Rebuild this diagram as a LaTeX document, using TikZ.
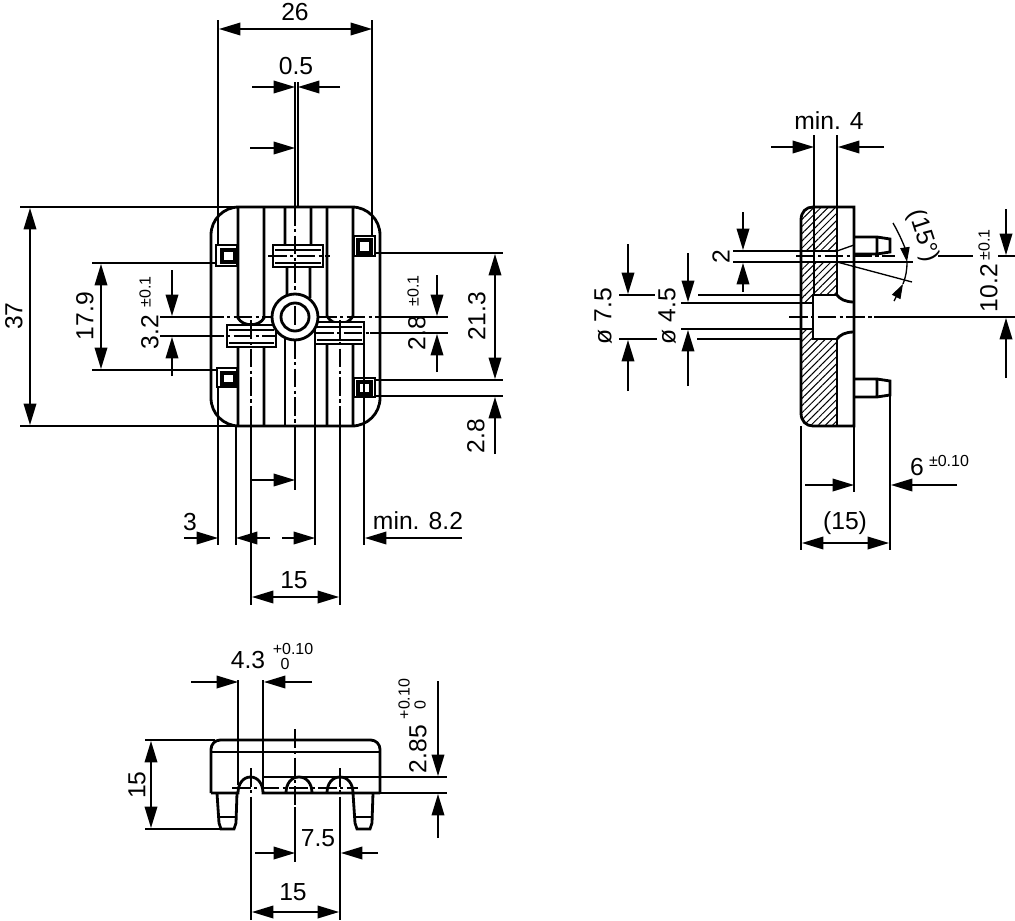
\documentclass[tikz,border=0pt]{standalone}
\usepackage{fontspec}
\setmainfont{Liberation Sans}
\usetikzlibrary{arrows.meta,patterns.meta}
\tikzset{
  outl/.style={line width=2.1pt,line join=miter},
  thinl/.style={line width=1pt},
  ctr/.style={line width=1pt,dash pattern=on 14pt off 2.5pt on 2.5pt off 2.5pt},
  dim/.style={line width=1pt,-{Triangle[length=16pt,width=9.5pt]}},
  dimsmall/.style={line width=1pt,-{Triangle[length=11pt,width=7pt]}},
  dimboth/.style={line width=1pt,{Triangle[length=16pt,width=9.5pt]}-{Triangle[length=16pt,width=9.5pt]}},
  lbl/.style={inner sep=0pt,font=\fontsize{18.5}{20}\selectfont},
  tol/.style={inner sep=0pt,font=\fontsize{12}{14}\selectfont},
  hatch/.style={pattern={Lines[angle=45,distance=3.8pt,line width=0.75pt]}}
}
\begin{document}
\begin{tikzpicture}[x=0.75pt,y=-0.75pt]
  \useasboundingbox (0,0) rectangle (1015,921);
  % front view
  \draw[outl,rounded corners=21pt] (211,207) rectangle (380,426);
  \draw[outl] (238,207) -- (238,318) .. controls (243,327) and (259,327) .. (264,318) -- (264,207);
  \draw[outl] (238,426) -- (238,344) .. controls (243,338) and (259,338) .. (264,344) -- (264,426);
  \draw[outl] (285,207) -- (285,245) .. controls (290,250) and (306,250) .. (311,245) -- (311,207);
  \draw[outl] (287,298) -- (287,265) .. controls (292,262) and (305,262) .. (310,265) -- (310,298);
  \draw[outl] (327,207) -- (327,316) .. controls (332,326) and (348,326) .. (353,316) -- (353,207);
  \draw[outl] (327,426) -- (327,343) .. controls (332,338) and (348,338) .. (353,343) -- (353,426);
  \draw[outl] (285,330) -- (285,426) (315,344) -- (315,426);
  \draw[outl,fill=white] (273,245) rectangle (323,267);
  \draw[outl,fill=white] (227,325) rectangle (276,347);
  \draw[outl,fill=white] (315,322) rectangle (364,344);
  \draw[line width=1.3pt] (275,250) -- (321,250) (275,263) -- (321,263);
  \draw[line width=1.3pt] (229,330) -- (274,330) (229,343) -- (274,343);
  \draw[line width=1.3pt] (317,327) -- (362,327) (317,340) -- (362,340);
  % mounting squares
  \draw[thinl] (216,245) rectangle (237,266) (217,368) rectangle (237,387);
  \draw[thinl] (354,236) rectangle (375,256) (354,378) rectangle (375,397);
  \draw[line width=2.8pt] (222,250) rectangle (235,262) (222,373) rectangle (235,384);
  \draw[line width=2.8pt] (358,240) rectangle (371,253) (358,382) rectangle (371,394);
  \draw[outl] (364,382) -- (364,394);
  % centre lines
  \draw[ctr] (205,317) -- (272,317) (318,317) -- (385,317);
  \draw[ctr] (205,336) -- (276,336) (315,333) -- (370,333);
  \draw[ctr] (268,256) -- (330,256);
  \draw[ctr] (295,207) -- (295,294) (295,340) -- (295,426);
  \draw[ctr] (251,320) -- (251,426) (340,320) -- (340,426);
  \draw[outl,fill=white] (295,317) circle (23);
  \draw[outl] (295,317) circle (14);
  \draw[ctr] (295,306) -- (295,328);
  % extension lines, front view
  \draw[thinl] (218,20) -- (218,245) (218,387) -- (218,545);
  \draw[thinl] (372,20) -- (372,236);
  \draw[thinl] (295,82) -- (295,207) (298,82) -- (298,207);
  \draw[thinl] (295,426) -- (295,490);
  \draw[thinl] (20,207) -- (238,207) (20,426) -- (238,426);
  \draw[thinl] (92,263) -- (216,263) (92,370) -- (217,370);
  \draw[thinl] (160,317) -- (205,317) (160,336) -- (205,336);
  \draw[thinl] (370,333) -- (448,333) (385,317) -- (448,317);
  \draw[thinl] (375,253) -- (503,253) (375,380) -- (503,380) (375,396) -- (503,396);
  \draw[thinl] (236,426) -- (236,545) (315,426) -- (315,545) (364,344) -- (364,545);
  \draw[thinl] (251,426) -- (251,605) (340,426) -- (340,605);
  % dimensions, front view
  \draw[dimboth] (219,29) -- (372,29);
  \node[lbl] (lenA) at (295,12) {26};
  \draw[dim] (252,87) -- (295,87);
  \draw[dim] (340,87) -- (298,87);
  \node[lbl] (gapA) at (296,66) {0.5};
  \draw[dim] (250,148) -- (295,148);
  \draw[dim] (250,480) -- (295,480);
  \draw[dimboth] (30,208) -- (30,425);
  \node[lbl,rotate=90] (heightA) at (14,316) {37};
  \draw[dimboth] (101,264) -- (101,369);
  \node[lbl,rotate=90] (pitchA) at (85,316) {17.9};
  \draw[dim] (172,270) -- (172,316);
  \draw[dim] (172,376) -- (172,337);
  \node[lbl,rotate=90] (slotA) at (150,332) {3.2};
  \node[tol,rotate=90] (slotAt) at (145,292) {±0.1};
  \draw[dim] (437,275) -- (437,316);
  \draw[dim] (437,372) -- (437,334);
  \node[lbl,rotate=90] (slotB) at (417,333) {2.8};
  \node[tol,rotate=90] (slotBt) at (413,291) {±0.1};
  \draw[dimboth] (495,254) -- (495,379);
  \node[lbl,rotate=90] (pitchB) at (477,316) {21.3};
  \draw[dim] (495,454) -- (495,397);
  \node[lbl,rotate=90] (edgeB) at (476,436) {2.8};
  \draw[dim] (184,538) -- (218,538);
  \node[lbl] (edgeA) at (190,522) {3};
  \draw[dim] (270,538) -- (236,538);
  \draw[dim] (282,538) -- (315,538);
  \draw[dim] (462,538) -- (365,538);
  \node[lbl] (minA) at (418,521) {min. 8.2};
  \draw[dimboth] (252,597) -- (339,597);
  \node[lbl] (holesA) at (294,580) {15};
  % side view
  \fill[hatch] (813,207) -- (837,207) -- (837,251) -- (801,251) -- (801,220) .. controls (801,212) and (806,207) .. (813,207) -- cycle;
  \fill[hatch] (801,262) rectangle (837,295);
  \fill[hatch] (801,295) rectangle (813,303);
  \fill[hatch] (801,329) rectangle (813,339);
  \fill[hatch] (801,339) -- (837,339) -- (837,426) -- (813,426) .. controls (806,426) and (801,421) .. (801,413) -- cycle;
  \draw[outl] (813,207) -- (854,207) -- (854,426) -- (813,426) .. controls (806,426) and (801,421) .. (801,413)
    -- (801,220) .. controls (801,212) and (806,207) .. (813,207) -- cycle;
  \draw[outl] (837,207) -- (837,295) -- (813,295) -- (813,339) -- (837,339) -- (837,426);
  \draw[outl] (801,303) -- (813,303) (801,329) -- (813,329);
  \draw[outl] (801,251) -- (837,251) (801,262) -- (837,262);
  \draw[outl] (837,295) .. controls (840,299) and (845,302) .. (854,302);
  \draw[outl] (837,339) .. controls (840,335) and (845,332) .. (854,332);
  \draw[outl] (854,237) -- (877,237) -- (890,239) -- (890,252) -- (877,254) -- (854,254) (877,237) -- (877,254);
  \draw[outl] (854,379) -- (877,379) -- (890,381) -- (890,395) -- (877,397) -- (854,397) (877,379) -- (877,397);
  \draw[thinl] (837,251) -- (854,245) (837,262) -- (912,282);
  \draw[ctr] (789,317) -- (874,317) (796,256) -- (895,256);
  % extension lines, side view
  \draw[thinl] (814,135) -- (814,295) (837,135) -- (837,207);
  \draw[thinl] (733,251) -- (801,251) (733,262) -- (801,262) (837,262) -- (913,262);
  \draw[thinl] (619,295) -- (655,295) (698,295) -- (801,295);
  \draw[thinl] (619,339) -- (657,339) (697,339) -- (801,339);
  \draw[thinl] (681,303) -- (801,303) (681,329) -- (801,329);
  \draw[thinl] (874,317) -- (1015,317);
  \draw[thinl] (938,256) -- (973,256) (998,256) -- (1015,256);
  \draw[thinl] (801,426) -- (801,550) (854,426) -- (854,492) (890,395) -- (890,550);
  % dimensions, side view
  \draw[dim] (771,147) -- (814,147);
  \draw[dim] (884,147) -- (838,147);
  \node[lbl] (minB) at (829,121) {min. 4};
  \draw[dim] (743,212) -- (743,250);
  \draw[dim] (743,292) -- (743,263);
  \node[lbl,rotate=90] (boreA) at (721,257) {2};
  \draw[dim] (628,244) -- (628,294);
  \draw[dim] (628,391) -- (628,340);
  \node[lbl,rotate=90] (boreB) at (603,316) {ø 7.5};
  \draw[dim] (688,253) -- (688,302);
  \draw[dim] (688,386) -- (688,330);
  \node[lbl,rotate=90] (boreC) at (667,316) {ø 4.5};
  \draw[dimsmall] (893,223) .. controls (900,235) and (905,248) .. (907,262);
  \draw[thinl] (907,262) .. controls (907,270) and (906,276) .. (903,284);
  \draw[dimsmall] (894,301) -- (903,284);
  \node[lbl,rotate=-72] (angleA) at (923,236) {(15°)};
  \draw[dim] (1006,209) -- (1006,255);
  \draw[dim] (1006,378) -- (1006,318);
  \node[lbl,rotate=90] (pinA) at (989,288) {10.2};
  \node[tol,rotate=90] (pinAt) at (984,245) {±0.1};
  \draw[dim] (805,485) -- (854,485);
  \draw[dim] (957,485) -- (891,485);
  \node[lbl] (pinB) at (917,467) {6};
  \node[tol] (pinBt) at (949,461) {±0.10};
  \draw[dimboth] (802,543) -- (889,543);
  \node[lbl] (depthA) at (845,523) {(15)};
  % bottom view
  \draw[outl,rounded corners=7pt] (211,793) -- (211,740) -- (380,740) -- (380,793);
  \draw[outl] (211,793) -- (238,793) .. controls (238,784) and (243,777) .. (250.5,777) .. controls (258,777) and (263,784) .. (263,793) -- (380,793);
  \draw[outl] (286,793) .. controls (286,784) and (291,777) .. (299,777) .. controls (307,777) and (312,784) .. (312,793);
  \draw[outl] (327,793) .. controls (327,784) and (332,777) .. (340,777) .. controls (348,777) and (353,784) .. (353,793);
  \draw[thinl] (211,752) -- (380,752);
  \draw[outl] (217,793) -- (219,823) -- (221,829) -- (234,829) -- (236,823) -- (237,793);
  \draw[outl] (353,793) -- (355,823) -- (357,829) -- (370,829) -- (372,823) -- (373,793);
  \draw[thinl] (219,817) -- (236,817) (355,817) -- (372,817);
  \draw[ctr] (232,788) -- (358,788);
  \draw[ctr] (251,768) -- (251,807) (295,729) -- (295,807) (340,768) -- (340,807);
  % extension lines, bottom view
  \draw[thinl] (238,680) -- (238,785) (263,680) -- (263,793);
  \draw[thinl] (145,740) -- (215,740) (145,829) -- (220,829);
  \draw[thinl] (263,777) -- (447,777) (380,793) -- (447,793);
  \draw[thinl] (251,807) -- (251,920) (295,807) -- (295,862) (340,807) -- (340,920);
  % dimensions, bottom view
  \draw[dim] (191,682) -- (238,682);
  \draw[dim] (312,682) -- (264,682);
  \node[lbl] (widthA) at (248,660) {4.3};
  \node[tol] (widthAu) at (293,649) {+0.10};
  \node[tol] (widthAl) at (285,664) {0};
  \draw[dimboth] (151,741) -- (151,828);
  \node[lbl,rotate=90] (heightB) at (137,785) {15};
  \draw[dim] (438,681) -- (438,776);
  \draw[dim] (438,838) -- (438,794);
  \node[lbl,rotate=90] (wallA) at (418,749) {2.85};
  \node[tol,rotate=90] (wallAu) at (404,699) {+0.10};
  \node[tol,rotate=90] (wallAl) at (420,705) {0};
  \draw[dim] (255,853) -- (295,853);
  \draw[dim] (378,853) -- (341,853);
  \node[lbl] (pitchC) at (318,838) {7.5};
  \draw[dimboth] (252,912) -- (339,912);
  \node[lbl] (holesB) at (293,892) {15};
\end{tikzpicture}
\end{document}
